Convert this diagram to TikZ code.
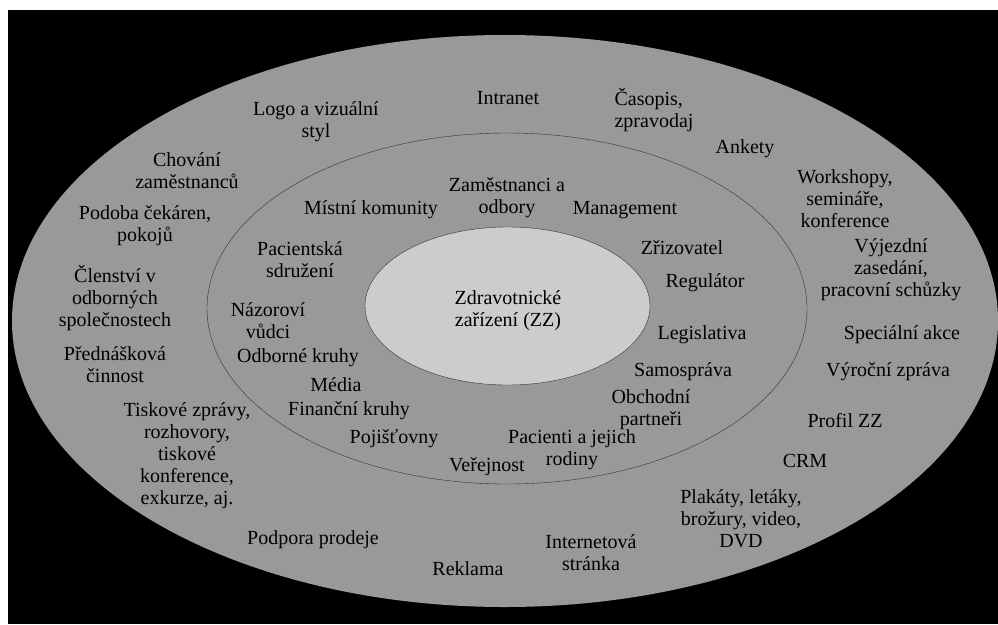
\documentclass[tikz,border=0pt]{standalone}
\usepackage{fontspec}
\setmainfont{Liberation Serif}

\begin{document}
\begin{tikzpicture}[x=1pt,y=-1pt,
  popis/.style={align=center,inner sep=0pt,font=\fontsize{20}{22}\selectfont}]

% Pozadí
\useasboundingbox (0,0) rectangle (998,624);
\fill[white] (0,0) rectangle (998,624);
\fill[black] (8,10) rectangle (998,624);

% Elipsy (vnější, střední, vnitřní)
\fill[black!40] (505,321) ellipse [x radius=493pt, y radius=286pt];
\draw[black!80, fill=black!40] (507,308.5) ellipse [x radius=300pt, y radius=175.5pt];
\draw[black!80, fill=black!20] (507.5,306) ellipse [x radius=142.5pt, y radius=79pt];

% Střed
\node[popis] (zz) at (508,311) {Zdravotnické\\zařízení (ZZ)};

% Střední kruh
\node[popis] (mistni) at (371,210) {Místní komunity};
\node[popis] (zamest) at (507,198) {Zaměstnanci a\\odbory};
\node[popis] (manag) at (625,210) {Management};
\node[popis] (zrizov) at (682,248) {Zřizovatel};
\node[popis] (regul) at (705,283) {Regulátor};
\node[popis] (legis) at (702,335) {Legislativa};
\node[popis] (samos) at (683,372) {Samospráva};
\node[popis] (obchod) at (651,410) {Obchodní\\partneři};
\node[popis] (pacienti) at (572,450) {Pacienti a jejich\\rodiny};
\node[popis] (verej) at (487,467) {Veřejnost};
\node[popis] (pojist) at (394,439) {Pojišťovny};
\node[popis] (financ) at (349,411) {Finanční kruhy};
\node[popis] (media) at (336,385) {Média};
\node[popis] (odbor) at (298,358) {Odborné kruhy};
\node[popis] (nazor) at (268,321) {Názoroví\\vůdci};
\node[popis] (sdruz) at (300,260) {Pacientská\\sdružení};

% Vnější kruh
\node[popis] (logo) at (316,122) {Logo a vizuální\\styl};
\node[popis] (intra) at (508,98) {Intranet};
\node[popis, align=left] (casop) at (654,110) {Časopis,\\zpravodaj};
\node[popis] (ankety) at (745,149) {Ankety};
\node[popis] (worksh) at (845,199) {Workshopy,\\semináře,\\konference};
\node[popis] (vyjezd) at (891,270) {Výjezdní\\zasedání,\\pracovní schůzky};
\node[popis] (special) at (902,335) {Speciální akce};
\node[popis] (vyrocni) at (888,372) {Výroční zpráva};
\node[popis] (profil) at (845,421) {Profil ZZ};
\node[popis] (crm) at (805,461) {CRM};
\node[popis] (plakaty) at (741,519) {Plakáty, letáky,\\brožury, video,\\DVD};
\node[popis] (internet) at (591,553) {Internetová\\stránka};
\node[popis] (reklama) at (468,569) {Reklama};
\node[popis] (podpora) at (313,540) {Podpora prodeje};
\node[popis] (tisk) at (187,456) {Tiskové zprávy,\\rozhovory,\\tiskové\\konference,\\exkurze, aj.};
\node[popis] (predn) at (115,365) {Přednášková\\činnost};
\node[popis] (clen) at (115,298) {Členství v\\odborných\\společnostech};
\node[popis] (podoba) at (145,226) {Podoba čekáren,\\pokojů};
\node[popis] (chovani) at (187,171) {Chování\\zaměstnanců};

\end{tikzpicture}
\end{document}
